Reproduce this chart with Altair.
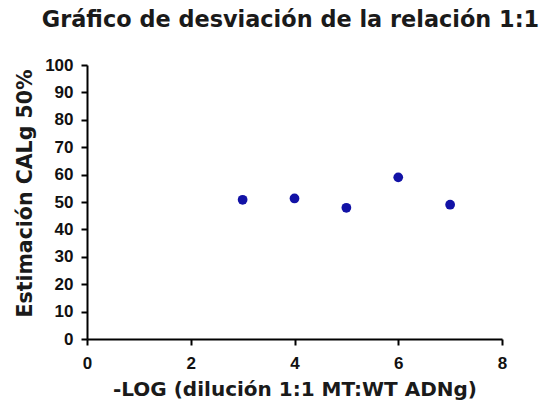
import altair as alt
import pandas as pd

x_vals = [3, 4, 5, 6, 7]
y_vals = [50.8, 51.3, 47.9, 59.0, 49.0]
x_ticks = [0, 2, 4, 6, 8]
y_ticks = [0, 10, 20, 30, 40, 50, 60, 70, 80, 90, 100]

df = pd.DataFrame({"x": x_vals, "y": y_vals})

TITLE_FONT = "DejaVu Sans"
LABEL_FONT = "Liberation Sans"

chart = (
    alt.Chart(df)
    .mark_circle(size=95, color="#1212A6", opacity=1)
    .encode(
        x=alt.X(
            "x:Q",
            scale=alt.Scale(domain=[0, 8], nice=False),
            axis=alt.Axis(
                values=x_ticks,
                title="-LOG (dilución 1:1 MT:WT ADNg)",
                titleFontSize=20,
                titleBaseline="alphabetic",
                titleY=56,
                labelFontSize=17,
                labelPadding=10,
            ),
        ),
        y=alt.Y(
            "y:Q",
            scale=alt.Scale(domain=[0, 100], nice=False),
            axis=alt.Axis(
                values=y_ticks,
                title="Estimación CALg 50%",
                titleFontSize=20.5,
                titleX=-52,
                titleY=128,
                labelFontSize=17,
                labelPadding=8,
            ),
        ),
    )
    .properties(
        width=415,
        height=274,
        padding={"left": 87, "top": 65, "right": 46, "bottom": 65},
        autosize=alt.AutoSizeParams(type="none"),
        title=alt.TitleParams(
            "Gráfico de desviación de la relación 1:1",
            fontSize=22.4,
            font=TITLE_FONT,
            fontWeight="bold",
            color="#1a1a1a",
            anchor="middle",
            dx=-4,
            offset=25,
        ),
    )
    .configure(background="white")
    .configure_view(stroke=None)
    .configure_axis(
        grid=False,
        domainColor="black",
        domainWidth=2,
        tickColor="black",
        tickWidth=2,
        tickSize=6,
        labelFont=LABEL_FONT,
        labelFontWeight="bold",
        labelColor="#111111",
        titleFont=TITLE_FONT,
        titleFontWeight="bold",
        titleColor="#1a1a1a",
        labelFlush=False,
        labelOverlap=False,
    )
)

chart.save("out.html", embed_options={"renderer": "svg", "actions": False})
